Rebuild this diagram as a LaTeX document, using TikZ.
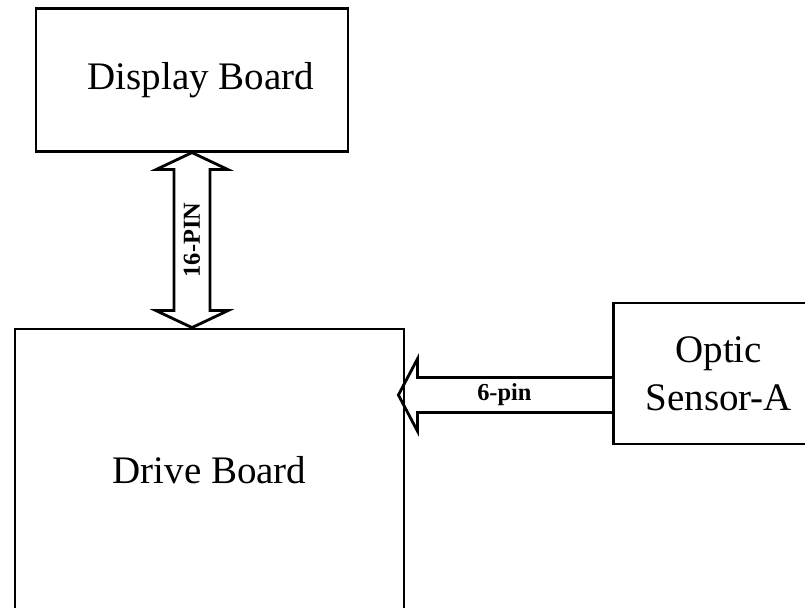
\documentclass[tikz,border=0pt]{standalone}
\usepackage{fontspec}
\setmainfont{Liberation Serif}
\usetikzlibrary{positioning, calc}
\tikzset{
  board/.style={rectangle, draw, line width=1.4pt, align=center, inner sep=0pt,
    font=\fontsize{19.5}{24}\selectfont},
  pinarrow/.style={draw, line width=1.4pt, line join=miter},
  pinlabel/.style={font=\fontsize{12.2}{14}\selectfont\bfseries, inner sep=0pt},
}

\begin{document}
\begin{tikzpicture}[x=0.5pt, y=-0.5pt]
  \useasboundingbox (0,0) rectangle (805,608);
  \clip (0,0) rectangle (805,608);

  % Boards
  \node[board, minimum width=194.5pt, minimum height=141pt] (drive) at (209.5,470) {Drive Board};
  \node[board, minimum width=156pt, minimum height=71.5pt,
    above=87.5pt of drive, xshift=-8.75pt] (display) {\hspace*{9pt}Display Board};
  \node[board, minimum width=105pt, minimum height=70.5pt,
    right=103.5pt of drive, yshift=48.25pt] (sensor) {Optic\\Sensor-A};

  % 16-pin bus
  \coordinate (p16a) at (display.south);
  \coordinate (p16b) at (display.south |- drive.north);
  \draw[pinarrow] (p16a) -- ++(36,17) -- ++(-18,0) -- ($(p16b)+(18,-17)$) -- ++(18,0)
    -- (p16b) -- ++(-36,-17) -- ++(18,0) -- ($(p16a)+(-18,17)$) -- ++(-18,0) -- cycle;
  \node[pinlabel, rotate=90] (lbl16) at ($(p16a)!0.5!(p16b)$) {16-PIN};

  % 6-pin link
  \coordinate (p6a) at ($(sensor.west)+(0,21.5)$);
  \coordinate (p6b) at ($(drive.east |- p6a)+(-7,0)$);
  \draw[pinarrow] ($(p6a)+(0,-17.5)$) -- ($(p6b)+(19,-17.5)$) -- ++(0,-18.5) -- (p6b)
    -- ++(19,36) -- ++(0,-18.5) -- ($(p6a)+(0,17.5)$);
  \node[pinlabel] (lbl6) at ($(p6a)!0.5!(p6b)+(-1,0)$) {6-pin};
\end{tikzpicture}
\end{document}
